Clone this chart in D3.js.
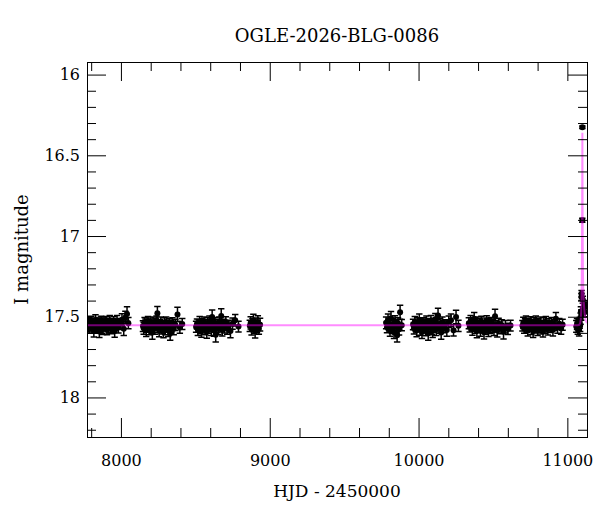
<!DOCTYPE html>
<html>
<head>
<meta charset="utf-8">
<script src="https://cdn.jsdelivr.net/npm/d3@7/dist/d3.min.js"></script>
<style>
  html, body { margin: 0; padding: 0; background: #fff; }
  svg { display: block; }
  text { font-family: "DejaVu Serif", "Liberation Serif", serif; fill: #000; }
</style>
</head>
<body>
<svg id="chart" width="600" height="512"></svg>
<script>
// ---------------- data ----------------
const title = "OGLE-2026-BLG-0086";
const xLabel = "HJD - 2450000";
const yLabel = "I magnitude";

const xMajor = [8000, 9000, 10000, 11000];
const xMinor = [7800, 8200, 8400, 8600, 8800, 9200, 9400, 9600, 9800, 10200, 10400, 10600, 10800];
const yMajor = [16, 16.5, 17, 17.5, 18];
const yMinor = [16.1, 16.2, 16.3, 16.4, 16.6, 16.7, 16.8, 16.9, 17.1, 17.2, 17.3, 17.4, 17.6, 17.7, 17.8, 17.9, 18.1, 18.2];

const hjd = [
  // season 1
  7776, 7781, 7787, 7792, 7799, 7805, 7811, 7818, 7824, 7829, 7836, 7843, 7849, 7855, 7861, 7868, 7874, 7880, 7887, 7893,
  7900, 7906, 7912, 7919, 7925, 7931, 7938, 7945, 7951, 7958, 7966, 7974, 7983, 7995, 8007, 8019, 8030, 8041, 8050,
  // season 2
  8148, 8153, 8159, 8165, 8170, 8176, 8182, 8188, 8193, 8199, 8205, 8211, 8216, 8222, 8228, 8234, 8239, 8245, 8251, 8257,
  8262, 8268, 8274, 8280, 8286, 8292, 8298, 8304, 8311, 8318, 8325, 8331, 8338, 8346, 8355, 8366, 8380, 8396, 8412,
  // season 3
  8505, 8511, 8517, 8523, 8529, 8535, 8541, 8547, 8553, 8559, 8565, 8571, 8577, 8583, 8589, 8595, 8601, 8607, 8613, 8619,
  8625, 8631, 8637, 8643, 8649, 8655, 8661, 8667, 8674, 8681, 8688, 8696, 8705, 8714, 8724, 8736, 8750, 8768, 8790,
  // season 4
  8866, 8872, 8878, 8884, 8890, 8896, 8902, 8908, 8914, 8920, 8927, 8935,
  // season 5
  9782, 9788, 9795, 9801, 9808, 9815, 9821, 9828, 9835, 9842, 9849, 9856, 9862, 9869, 9876, 9887,
  // season 6
  9963, 9969, 9975, 9981, 9987, 9993, 9999, 10005, 10011, 10017, 10023, 10029, 10035, 10041, 10047, 10053, 10059, 10065, 10071, 10077,
  10083, 10089, 10095, 10101, 10107, 10113, 10119, 10125, 10131, 10138, 10145, 10152, 10160, 10168, 10178, 10190, 10203, 10218, 10235, 10252, 10268,
  // season 7
  10338, 10344, 10350, 10356, 10362, 10368, 10374, 10380, 10386, 10392, 10398, 10404, 10410, 10416, 10422, 10428, 10434, 10440, 10446, 10452,
  10458, 10464, 10470, 10476, 10482, 10488, 10494, 10500, 10507, 10514, 10521, 10529, 10538, 10548, 10559, 10571, 10584, 10600, 10618,
  // season 8
  10698, 10704, 10710, 10716, 10722, 10728, 10734, 10740, 10746, 10752, 10758, 10764, 10770, 10776, 10782, 10788, 10794, 10800, 10806, 10812,
  10818, 10824, 10830, 10836, 10842, 10848, 10855, 10862, 10869, 10877, 10885, 10894, 10903, 10913, 10923, 10934, 10946, 10958, 10968,
  // season 9 (event)
  11060, 11065, 11070, 11075, 11079, 11083, 11086, 11089, 11091, 11093, 11094.5, 11095.5, 11100.4, 11100.9, 11104, 11113, 11115, 11119
];

const mag = [
  17.561, 17.540, 17.572, 17.548, 17.530, 17.566, 17.553, 17.585, 17.542, 17.522, 17.570, 17.556, 17.538, 17.591, 17.547, 17.529, 17.563, 17.575, 17.541, 17.552,
  17.533, 17.580, 17.548, 17.566, 17.525, 17.559, 17.571, 17.544, 17.536, 17.588, 17.553, 17.527, 17.562, 17.545, 17.518, 17.574, 17.505, 17.483, 17.540,

  17.558, 17.571, 17.536, 17.549, 17.583, 17.562, 17.529, 17.554, 17.577, 17.541, 17.566, 17.598, 17.535, 17.552, 17.571, 17.545, 17.528, 17.478, 17.563, 17.587,
  17.549, 17.537, 17.568, 17.556, 17.592, 17.541, 17.575, 17.532, 17.561, 17.584, 17.547, 17.603, 17.558, 17.539, 17.574, 17.551, 17.486, 17.566, 17.545,

  17.562, 17.545, 17.578, 17.553, 17.531, 17.569, 17.588, 17.547, 17.560, 17.536, 17.574, 17.552, 17.593, 17.541, 17.566, 17.528, 17.557, 17.579, 17.501, 17.549,
  17.585, 17.538, 17.612, 17.563, 17.546, 17.572, 17.535, 17.558, 17.495, 17.581, 17.549, 17.566, 17.532, 17.571, 17.555, 17.589, 17.543, 17.522, 17.561,

  17.556, 17.538, 17.579, 17.547, 17.523, 17.568, 17.590, 17.542, 17.561, 17.532, 17.574, 17.549,

  17.538, 17.565, 17.522, 17.551, 17.583, 17.509, 17.570, 17.546, 17.596, 17.529, 17.560, 17.614, 17.541, 17.577, 17.472, 17.552,

  17.548, 17.571, 17.533, 17.560, 17.586, 17.542, 17.557, 17.519, 17.575, 17.551, 17.594, 17.538, 17.566, 17.547, 17.580, 17.529, 17.562, 17.603, 17.544, 17.555,
  17.527, 17.573, 17.589, 17.540, 17.561, 17.516, 17.578, 17.552, 17.493, 17.567, 17.545, 17.598, 17.535, 17.563, 17.549, 17.582, 17.531, 17.521, 17.584, 17.502, 17.556,

  17.541, 17.563, 17.528, 17.552, 17.577, 17.546, 17.512, 17.568, 17.555, 17.589, 17.537, 17.561, 17.548, 17.582, 17.531, 17.566, 17.553, 17.596, 17.542, 17.572,
  17.527, 17.559, 17.584, 17.545, 17.568, 17.536, 17.561, 17.549, 17.578, 17.497, 17.557, 17.586, 17.544, 17.569, 17.552, 17.593, 17.562, 17.575, 17.555,

  17.556, 17.538, 17.571, 17.549, 17.529, 17.563, 17.582, 17.545, 17.558, 17.534, 17.574, 17.551, 17.589, 17.540, 17.565, 17.527, 17.557, 17.578, 17.546, 17.562,
  17.535, 17.571, 17.553, 17.586, 17.541, 17.568, 17.532, 17.559, 17.575, 17.547, 17.563, 17.538, 17.581, 17.552, 17.512, 17.567, 17.544, 17.573, 17.550,

  17.560, 17.545, 17.571, 17.552, 17.580, 17.538, 17.556, 17.512, 17.468, 17.490, 17.378, 17.358, 16.902, 16.326, 17.395, 17.425, 17.436, 17.470
];

const magErr = [
  0.032, 0.036, 0.030, 0.038, 0.033, 0.037, 0.034, 0.040, 0.031, 0.035, 0.033, 0.038, 0.030, 0.037, 0.034, 0.032, 0.039, 0.035, 0.033, 0.036,
  0.034, 0.031, 0.038, 0.035, 0.033, 0.041, 0.034, 0.032, 0.036, 0.039, 0.033, 0.035, 0.038, 0.034, 0.036, 0.042, 0.039, 0.045, 0.035,

  0.033, 0.037, 0.031, 0.035, 0.039, 0.034, 0.031, 0.038, 0.035, 0.033, 0.036, 0.041, 0.034, 0.032, 0.038, 0.035, 0.033, 0.042, 0.034, 0.037,
  0.032, 0.035, 0.039, 0.033, 0.038, 0.034, 0.036, 0.031, 0.035, 0.039, 0.034, 0.043, 0.036, 0.033, 0.038, 0.035, 0.044, 0.036, 0.034,

  0.034, 0.031, 0.038, 0.035, 0.033, 0.036, 0.039, 0.034, 0.031, 0.035, 0.038, 0.033, 0.041, 0.034, 0.036, 0.032, 0.035, 0.038, 0.042, 0.034,
  0.036, 0.033, 0.044, 0.035, 0.031, 0.038, 0.034, 0.036, 0.045, 0.039, 0.033, 0.035, 0.032, 0.038, 0.034, 0.041, 0.035, 0.036, 0.033,

  0.035, 0.038, 0.034, 0.036, 0.039, 0.035, 0.041, 0.034, 0.036, 0.038, 0.035, 0.039,

  0.036, 0.034, 0.039, 0.035, 0.038, 0.041, 0.034, 0.036, 0.039, 0.035, 0.038, 0.042, 0.034, 0.036, 0.043, 0.035,

  0.033, 0.036, 0.034, 0.031, 0.038, 0.035, 0.033, 0.036, 0.039, 0.034, 0.041, 0.031, 0.035, 0.033, 0.038, 0.034, 0.036, 0.042, 0.033, 0.035,
  0.034, 0.038, 0.039, 0.031, 0.035, 0.036, 0.038, 0.034, 0.046, 0.035, 0.033, 0.041, 0.034, 0.036, 0.031, 0.039, 0.035, 0.038, 0.036, 0.042, 0.035,

  0.034, 0.031, 0.036, 0.033, 0.038, 0.035, 0.039, 0.034, 0.031, 0.041, 0.035, 0.033, 0.036, 0.039, 0.034, 0.035, 0.031, 0.042, 0.034, 0.036,
  0.033, 0.035, 0.039, 0.034, 0.036, 0.031, 0.035, 0.033, 0.038, 0.044, 0.034, 0.039, 0.035, 0.036, 0.033, 0.045, 0.038, 0.035, 0.034,

  0.033, 0.035, 0.031, 0.036, 0.034, 0.033, 0.038, 0.035, 0.031, 0.034, 0.036, 0.033, 0.039, 0.034, 0.035, 0.031, 0.036, 0.038, 0.033, 0.035,
  0.034, 0.036, 0.031, 0.039, 0.034, 0.035, 0.033, 0.036, 0.038, 0.034, 0.035, 0.033, 0.038, 0.034, 0.039, 0.035, 0.033, 0.036, 0.034,

  0.036, 0.034, 0.038, 0.035, 0.039, 0.034, 0.036, 0.035, 0.030, 0.032, 0.022, 0.020, 0.012, 0.008, 0.022, 0.025, 0.026, 0.030
];

// microlensing model curve
const modelT = [7772, 11070, 11080, 11086, 11090, 11093, 11095, 11097, 11099, 11100.2, 11100.9, 11101.6, 11102.8, 11104.5, 11107, 11111, 11116, 11122, 11132];
const modelMag = [17.553, 17.553, 17.550, 17.540, 17.515, 17.470, 17.400, 17.250, 16.950, 16.600, 16.360, 16.600, 16.950, 17.200, 17.330, 17.420, 17.480, 17.520, 17.540];

// ---------------- layout ----------------
const svg = d3.select("#chart");
const L = 87, R = 587, T = 62, B = 437;

const x = d3.scaleLinear().domain([7772, 11132]).range([L, R]);
const y = d3.scaleLinear().domain([15.922, 18.245]).range([T, B]);

svg.append("defs").append("clipPath").attr("id", "plotclip")
  .append("rect").attr("x", L).attr("y", T).attr("width", R - L).attr("height", B - T);

const points = hjd.map((t, i) => ({ t, m: mag[i], e: magErr[i] }));

const plot = svg.append("g").attr("clip-path", "url(#plotclip)");

// error bars
const eb = plot.append("g").attr("stroke", "#000").attr("stroke-width", 1.5).attr("fill", "none");
eb.selectAll("path").data(points).join("path")
  .attr("d", d => {
    const cx = x(d.t), y1 = y(d.m - d.e), y2 = y(d.m + d.e), c = 3.2;
    return `M${cx},${y1}V${y2}M${cx - c},${y1}H${cx + c}M${cx - c},${y2}H${cx + c}`;
  });

// points
plot.append("g").selectAll("circle").data(points).join("circle")
  .attr("cx", d => x(d.t)).attr("cy", d => y(d.m)).attr("r", 3).attr("fill", "#000");

// model line
const line = d3.line().x(d => x(d[0])).y(d => y(d[1]));
plot.append("path")
  .datum(modelT.map((t, i) => [t, modelMag[i]]))
  .attr("d", line)
  .attr("fill", "none")
  .attr("stroke", "#ff00ff")
  .attr("stroke-opacity", 0.45)
  .attr("stroke-width", 2);

// ---------------- axes ----------------
function styleAxis(g) {
  g.select(".domain").remove();
  g.selectAll(".tick line").attr("stroke", "#000");
  g.selectAll(".tick text").style("font-family", '"DejaVu Serif", serif').style("font-size", "16px").attr("fill", "#000");
}
const MAJ = 19, MIN = 9;

svg.append("g").attr("transform", `translate(0,${B})`)
  .call(d3.axisBottom(x).tickValues(xMajor).tickSize(-MAJ).tickSizeOuter(0).tickPadding(18).tickFormat(d3.format("d")))
  .call(styleAxis);
svg.append("g").attr("transform", `translate(0,${B})`)
  .call(d3.axisBottom(x).tickValues(xMinor).tickSize(-MIN).tickSizeOuter(0).tickFormat(""))
  .call(styleAxis);
svg.append("g").attr("transform", `translate(0,${T})`)
  .call(d3.axisTop(x).tickValues(xMajor).tickSize(-MAJ).tickSizeOuter(0).tickFormat(""))
  .call(styleAxis);
svg.append("g").attr("transform", `translate(0,${T})`)
  .call(d3.axisTop(x).tickValues(xMinor).tickSize(-MIN).tickSizeOuter(0).tickFormat(""))
  .call(styleAxis);

svg.append("g").attr("transform", `translate(${L},0)`)
  .call(d3.axisLeft(y).tickValues(yMajor).tickSize(-MAJ).tickSizeOuter(0).tickPadding(7).tickFormat(d => String(d)))
  .call(styleAxis);
svg.append("g").attr("transform", `translate(${L},0)`)
  .call(d3.axisLeft(y).tickValues(yMinor).tickSize(-MIN).tickSizeOuter(0).tickFormat(""))
  .call(styleAxis);
svg.append("g").attr("transform", `translate(${R},0)`)
  .call(d3.axisRight(y).tickValues(yMajor).tickSize(-MAJ).tickSizeOuter(0).tickFormat(""))
  .call(styleAxis);
svg.append("g").attr("transform", `translate(${R},0)`)
  .call(d3.axisRight(y).tickValues(yMinor).tickSize(-MIN).tickSizeOuter(0).tickFormat(""))
  .call(styleAxis);

// frame
svg.append("rect")
  .attr("x", L + 0.5).attr("y", T + 0.5).attr("width", R - L).attr("height", B - T)
  .attr("fill", "none").attr("stroke", "#000").attr("stroke-width", 1);

// ---------------- labels ----------------
svg.append("text").attr("x", (L + R) / 2).attr("y", 42).attr("text-anchor", "middle")
  .style("font-size", "18px").text(title);
svg.append("text").attr("x", (L + R) / 2).attr("y", 497).attr("text-anchor", "middle")
  .style("font-size", "17px").text(xLabel);
svg.append("text").attr("transform", `translate(28,${(T + B) / 2}) rotate(-90)`).attr("text-anchor", "middle")
  .style("font-size", "18px").text(yLabel);
</script>
</body>
</html>
